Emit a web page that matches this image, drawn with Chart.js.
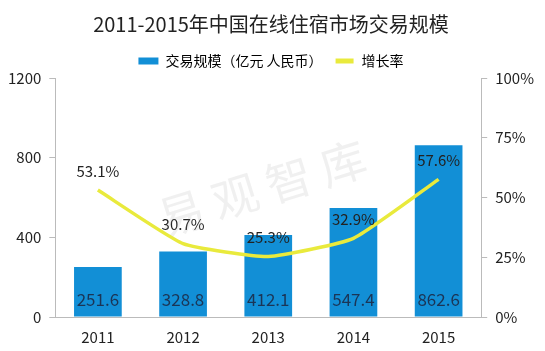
<!DOCTYPE html>
<html>
<head>
<meta charset="utf-8">
<script src="https://cdn.jsdelivr.net/npm/chart.js@4/dist/chart.umd.min.js"></script>
<style>
  html, body { margin: 0; padding: 0; background: #fff; }
  #wrap { width: 545px; height: 351px; position: relative; }
</style>
</head>
<body>
<div id="wrap"><canvas id="chart"></canvas></div>
<script>
// 数据
const years = ['2011', '2012', '2013', '2014', '2015'];
const scaleValues = [251.6, 328.8, 412.1, 547.4, 862.6];   // 交易规模（亿元 人民币）
const growthRates = [0.531, 0.307, 0.253, 0.329, 0.576];   // 增长率
const leftTicks = [0, 400, 800, 1200];
const rightTicks = [0, 0.25, 0.5, 0.75, 1];

const FONT = '"Noto Sans CJK SC", "Noto Sans", sans-serif';

// 数据标签插件
const labelPlugin = {
    id: 'labels',
    afterDatasetsDraw(chart) {
        const c = chart.ctx;
        c.save();
        c.textAlign = 'center';
        c.textBaseline = 'middle';

        const barMeta = chart.getDatasetMeta(0);
        c.font = '17px ' + FONT;
        c.fillStyle = '#1b3556';
        barMeta.data.forEach((bar, i) => {
            c.fillText(scaleValues[i].toFixed(1), bar.x, chart.chartArea.bottom - 17);
        });

        const lineMeta = chart.getDatasetMeta(1);
        c.font = '15px ' + FONT;
        c.fillStyle = '#222';
        lineMeta.data.forEach((pt, i) => {
            c.fillText((growthRates[i] * 100).toFixed(1) + '%', pt.x, pt.y - 19);
        });
        c.restore();
    }
};

// 水印
const watermark = {
    id: 'watermark',
    afterDatasetsDraw(chart) {
        const c = chart.ctx;
        c.save();
        c.translate(262, 188);
        c.rotate(-0.3);
        c.font = '46px ' + FONT;
        c.fillStyle = 'rgba(160,160,160,0.16)';
        c.textAlign = 'center';
        c.textBaseline = 'middle';
        c.fillText('易 观 智 库', 0, 0);
        c.restore();
    }
};

const ctx = document.getElementById('chart').getContext('2d');
new Chart(ctx, {
    data: {
        labels: years,
        datasets: [
            {
                type: 'bar',
                label: '交易规模（亿元 人民币）',
                data: scaleValues,
                backgroundColor: '#128fd6',
                barPercentage: 0.56,
                categoryPercentage: 1,
                yAxisID: 'y',
                order: 2
            },
            {
                type: 'line',
                label: '增长率',
                data: growthRates,
                borderColor: '#e9ea3c',
                backgroundColor: '#e9ea3c',
                borderWidth: 3.5,
                pointRadius: 0,
                tension: 0.15,
                yAxisID: 'y1',
                order: 1
            }
        ]
    },
    options: {
        responsive: true,
        maintainAspectRatio: false,
        animation: false,
        layout: { padding: { left: 0, right: 3, top: 6, bottom: 2 } },
        plugins: {
            title: {
                display: true,
                text: '2011-2015年中国在线住宿市场交易规模',
                font: { size: 20, family: FONT, weight: 'normal' },
                color: '#222',
                padding: { top: 6, bottom: 6 }
            },
            legend: {
                labels: {
                    font: { size: 14, family: FONT },
                    color: '#333',
                    boxWidth: 20,
                    boxHeight: 7,
                    padding: 12,
                    generateLabels(chart) {
                        return chart.data.datasets.map((ds, i) => ({
                            text: ds.label,
                            fillStyle: ds.backgroundColor,
                            strokeStyle: i === 1 ? '#fff' : ds.backgroundColor,
                            lineWidth: i === 1 ? 2 : 0,
                            datasetIndex: i
                        }));
                    }
                }
            },
            tooltip: { enabled: false }
        },
        scales: {
            x: {
                grid: { display: false },
                border: { color: '#bbb' },
                ticks: { font: { size: 15, family: FONT }, color: '#222' }
            },
            y: {
                position: 'left',
                min: 0,
                max: 1200,
                afterBuildTicks(axis) { axis.ticks = leftTicks.map(v => ({ value: v })); },
                grid: { drawOnChartArea: false, tickLength: 6, color: '#bbb' },
                border: { color: '#bbb' },
                ticks: {
                    font: { size: 15, family: FONT },
                    color: '#222',
                    padding: 8,
                    callback: v => String(v)
                }
            },
            y1: {
                position: 'right',
                min: 0,
                max: 1,
                afterBuildTicks(axis) { axis.ticks = rightTicks.map(v => ({ value: v })); },
                grid: { drawOnChartArea: false, tickLength: 6, color: '#bbb' },
                border: { color: '#bbb' },
                ticks: {
                    font: { size: 15, family: FONT },
                    color: '#222',
                    padding: 8,
                    callback: v => Math.round(v * 100) + '%'
                }
            }
        }
    },
    plugins: [labelPlugin, watermark]
});
</script>
</body>
</html>
